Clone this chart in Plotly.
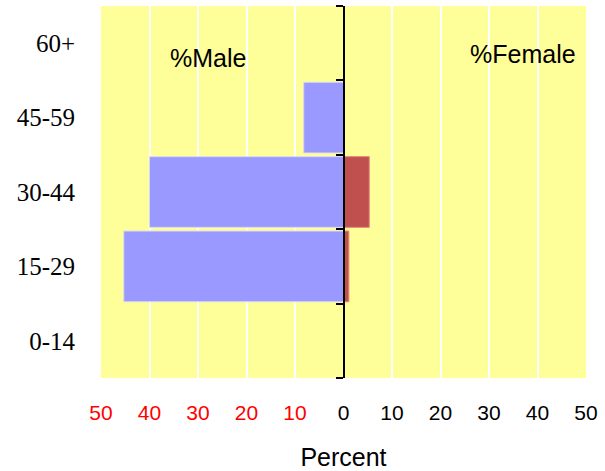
import plotly.graph_objects as go

categories = ["0-14", "15-29", "30-44", "45-59", "60+"]
male_pct = [0, 45.3, 40.0, 8.2, 0]
female_pct = [0, 1.1, 5.3, 0, 0]
x_tickvals = [-50, -40, -30, -20, -10, 0, 10, 20, 30, 40, 50]
x_ticktext = ['<span style="color:red">50</span>', '<span style="color:red">40</span>',
              '<span style="color:red">30</span>', '<span style="color:red">20</span>',
              '<span style="color:red">10</span>', '0', '10', '20', '30', '40', '50']

fig = go.Figure()
fig.add_trace(go.Bar(y=categories, x=[-v for v in male_pct], orientation="h",
                     marker=dict(color="#9999FF", line=dict(color="#D8D8F0", width=1)),
                     width=0.95, name="Male"))
fig.add_trace(go.Bar(y=categories, x=female_pct, orientation="h",
                     marker=dict(color="#C0504D", line=dict(color="#E08080", width=1)),
                     width=0.95, name="Female"))
# dummy trace for the centre axis
fig.add_trace(go.Scatter(y=categories, x=[0]*5, yaxis="y2", mode="markers",
                         marker=dict(opacity=0), hoverinfo="skip", showlegend=False))

fig.update_layout(
    width=605, height=471,
    margin=dict(l=101, r=19, t=6, b=93),
    paper_bgcolor="white", plot_bgcolor="#FFFF99",
    barmode="overlay", showlegend=False,
    xaxis=dict(range=[-50, 50], tickvals=x_tickvals, ticktext=x_ticktext,
               showgrid=True, gridcolor="white", gridwidth=1.5, zeroline=False,
               showline=False, ticks="", automargin=False, ticklabelstandoff=20,
               tickfont=dict(family="Liberation Sans, Arial", size=21, color="black"),
               title=dict(text="Percent", font=dict(family="Liberation Sans, Arial", size=25, color="black"),
                          standoff=25)),
    yaxis=dict(type="category", categoryorder="array", categoryarray=categories,
               range=[-0.5, 4.5], showgrid=False, zeroline=False, showline=False, ticks="",
               ticklabelstandoff=25, automargin=False,
               tickfont=dict(family="Liberation Serif, Times New Roman", size=25, color="black")),
    yaxis2=dict(type="category", categoryorder="array", categoryarray=categories,
                range=[-0.5, 4.5], overlaying="y", anchor="free", position=0.5,
                showline=True, linecolor="black", linewidth=1.5, automargin=False,
                ticks="outside", tickson="boundaries", ticklen=7, tickcolor="black", tickwidth=1.5,
                showticklabels=False, showgrid=False, zeroline=False),
    annotations=[
        dict(text="%Male", x=-28, y=3.8, xref="x", yref="y", showarrow=False,
             font=dict(family="Liberation Sans, Arial", size=25, color="black")),
        dict(text="%Female", x=37, y=3.85, xref="x", yref="y", showarrow=False,
             font=dict(family="Liberation Sans, Arial", size=25, color="black")),
    ],
)

fig.write_html("out.html", config={"displayModeBar": False},
               post_script="document.body.style.margin='0';")
